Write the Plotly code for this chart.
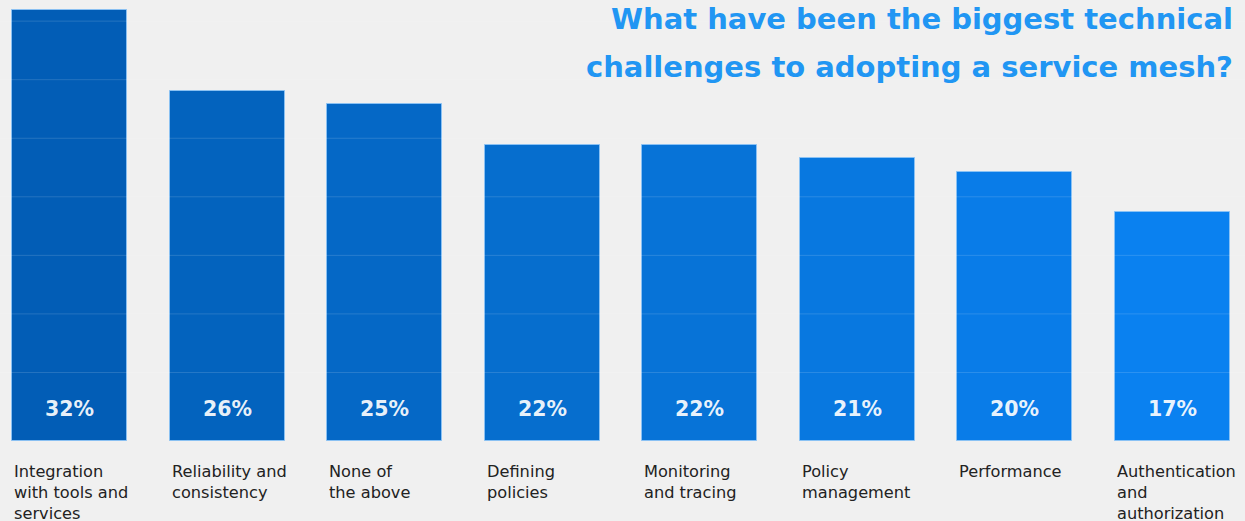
import plotly.graph_objects as go

categories = [
    "Integration<br>with tools and<br>services",
    "Reliability and<br>consistency",
    "None of<br>the above",
    "Defining<br>policies",
    "Monitoring<br>and tracing",
    "Policy<br>management",
    "Performance",
    "Authentication<br>and<br>authorization",
]
values = [32, 26, 25, 22, 22, 21, 20, 17]
value_labels = ["32%", "26%", "25%", "22%", "22%", "21%", "20%", "17%"]
bar_colors = ["#025DB6", "#0363BE", "#0568C6", "#066ECE", "#0773D7", "#0878E0", "#097CE8", "#0A81F0"]
grid_levels = [5.09, 9.44, 13.79, 18.14, 22.49, 26.84, 31.19]

title_line1 = "What have been the biggest technical"
title_line2 = "challenges to adopting a service mesh?"

bar_width = 0.73
xs = list(range(len(categories)))

fig = go.Figure()
fig.add_trace(go.Bar(
    x=xs, y=values, width=bar_width,
    marker=dict(color=bar_colors, line=dict(color="rgba(140,195,245,0.9)", width=1)),
    hoverinfo="skip",
))

annotations = []
for i, (v, lab, cat) in enumerate(zip(values, value_labels, categories)):
    annotations.append(dict(
        x=i, y=0, xref="x", yref="y", text=lab, showarrow=False,
        yanchor="middle", yshift=32,
        font=dict(family="DejaVu Sans", size=20.5, color="rgba(255,255,255,0.92)", weight="bold"),
    ))
    annotations.append(dict(
        x=i - bar_width / 2, y=0, xref="x", yref="y", text=cat, showarrow=False,
        xanchor="left", yanchor="top", yshift=-19, align="left",
        font=dict(family="DejaVu Sans", size=16.2, color="#222222"),
    ))

annotations.append(dict(
    x=1, y=1, xref="paper", yref="paper", text=title_line1, showarrow=False,
    xanchor="right", yanchor="middle", xshift=-10, yshift=-19,
    font=dict(family="DejaVu Sans", size=29, color="#2196F3", weight="bold"),
))
annotations.append(dict(
    x=1, y=1, xref="paper", yref="paper", text=title_line2, showarrow=False,
    xanchor="right", yanchor="middle", xshift=-10, yshift=-67,
    font=dict(family="DejaVu Sans", size=29, color="#2196F3", weight="bold"),
))

shapes = []
for g in grid_levels:
    shapes.append(dict(
        type="line", xref="paper", yref="y", x0=0, x1=1, y0=g, y1=g,
        line=dict(color="rgba(255,255,255,0.14)", width=1), layer="above",
    ))

fig.update_layout(
    width=1245, height=521,
    margin=dict(l=0, r=0, t=0, b=80),
    paper_bgcolor="#f0f0f0", plot_bgcolor="#f0f0f0",
    showlegend=False,
    xaxis=dict(range=[-0.441, 7.46], showgrid=False, zeroline=False, showticklabels=False, fixedrange=True),
    yaxis=dict(range=[0, 32.76], showgrid=False, zeroline=False, showticklabels=False, fixedrange=True),
    annotations=annotations,
    shapes=shapes,
    bargap=0,
)

fig.write_html("out.html", config={"displayModeBar": False})
